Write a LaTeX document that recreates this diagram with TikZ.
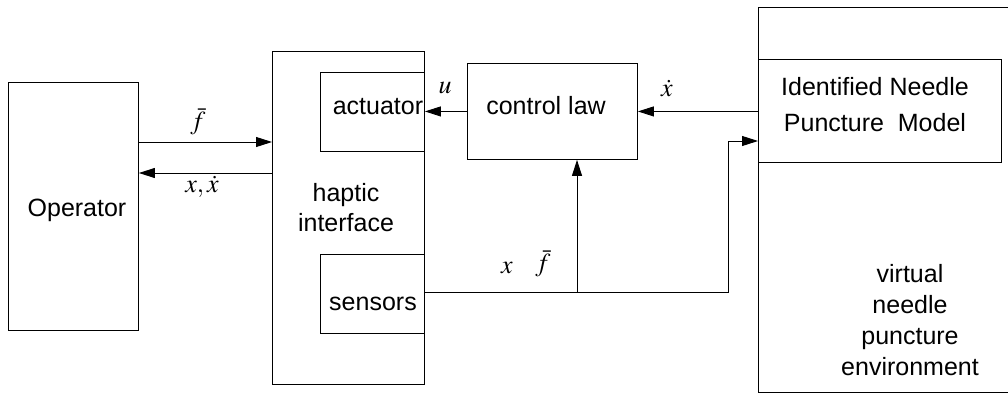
\documentclass[tikz,border=0pt]{standalone}
\usepackage{mathptmx}
\usepackage{fontspec}
\setmainfont{Liberation Sans}
\usetikzlibrary{arrows.meta}
\begin{document}
\begin{tikzpicture}[x=1pt,y=-1pt,
  box/.style={draw,line width=0.9pt,inner sep=0pt,anchor=north west},
  lbl/.style={font=\fontsize{25}{30}\selectfont,inner sep=0pt,align=center},
  mlbl/.style={font=\fontsize{26}{30}\selectfont,inner sep=0pt},
  arr/.style={line width=0.9pt,-{Triangle[length=16pt,width=10pt]}},
  ln/.style={line width=0.9pt}]
\useasboundingbox (0,0) rectangle (1008,403);
\clip (0,0) rectangle (1008,403);
% boxes
\node[box,minimum width=130pt,minimum height=248pt] (op) at (8,82) {};
\node[box,minimum width=152pt,minimum height=333pt] (hap) at (272,51) {};
\node[box,minimum width=104pt,minimum height=79pt] (act) at (320,72) {};
\node[box,minimum width=104pt,minimum height=79pt] (sen) at (320,254) {};
\node[box,minimum width=170pt,minimum height=96pt] (ctl) at (467,63) {};
\node[box,minimum width=300pt,minimum height=385pt] (env) at (758,7) {};
\node[box,minimum width=243pt,minimum height=103pt] (model) at (758,59) {};
% texts
\node[lbl] (topT) at (77,210) {Operator};
\node[lbl] (hapT) at (346,208) {haptic\\[0pt]interface};
\node[lbl] (actT) at (378,107) {actuator};
\node[lbl] (senT) at (373,304) {sensors};
\node[lbl] (ctlT) at (546,106) {control law};
\node[lbl] (modT) at (875,105) {Identified Needle\\[6pt]Puncture\ \ Model};
\node[lbl,text depth=0pt] (envT) at (910,320) {virtual\\[1pt]needle\\[1pt]puncture\\[1pt]environment};
% math labels
\node[mlbl] (fA) at (198,122) {$\bar f$};
\node[mlbl] (xA) at (202,187) {$x,\dot x$};
\node[mlbl] (uA) at (445,88) {$u$};
\node[mlbl] (xdA) at (667,88) {$\dot x$};
\node[mlbl] (xB) at (507,268) {$x$};
\node[mlbl] (fB) at (543,264) {$\bar f$};
% connectors
\draw[arr] (op.east |- 0,142) -- (hap.west |- 0,142);
\draw[arr] (hap.west |- 0,173) -- (op.east |- 0,173);
\draw[arr] (ctl.west) -- (act.east |- ctl.west);
\draw[arr] (model.west |- ctl.east) -- (ctl.east);
\coordinate (jR) at (728,292);
\coordinate (jC) at (577,292);
\draw[arr] (sen.east |- jR) -- (jR) -- (jR |- 0,141) -- (model.west |- 0,141);
\draw[arr] (jC) -- (jC |- ctl.south);
\end{tikzpicture}
\end{document}
